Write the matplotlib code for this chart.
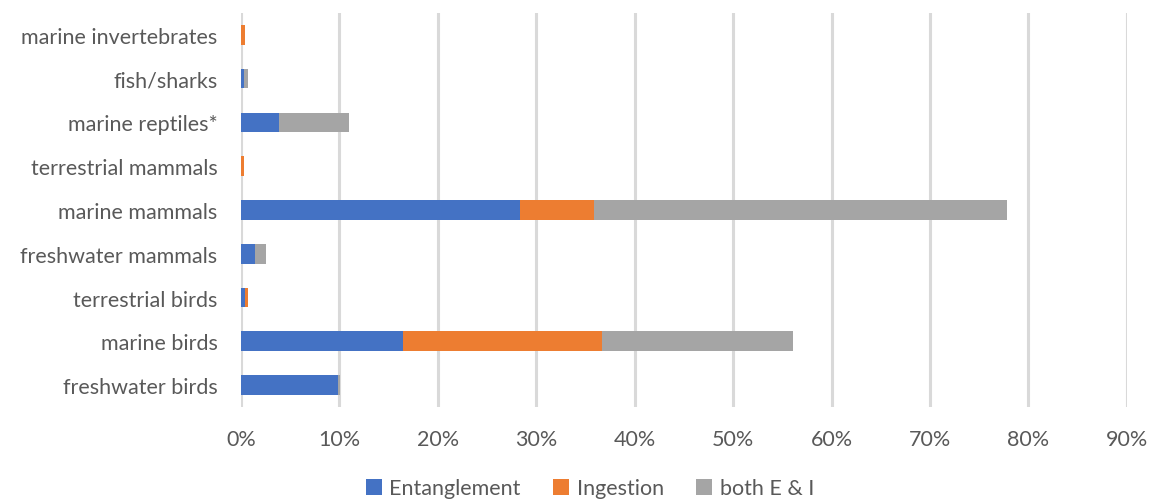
import numpy as np
import matplotlib
matplotlib.use("Agg")
import matplotlib.pyplot as plt
from matplotlib.ticker import PercentFormatter

plt.rcParams['font.family'] = ['Lato', 'DejaVu Sans']

# categories listed bottom to top
categories = ['freshwater birds', 'marine birds', 'terrestrial birds',
              'freshwater mammals', 'marine mammals', 'terrestrial mammals',
              'marine reptiles*', 'fish/sharks', 'marine invertebrates']

# share of species affected (%)
entanglement = [9.9, 16.5, 0.4, 1.4, 28.3, 0.0, 3.9, 0.35, 0.0]
ingestion = [0.0, 20.2, 0.3, 0.0, 7.6, 0.35, 0.0, 0.0, 0.4]
both_e_i = [0.2, 19.4, 0.0, 1.1, 41.9, 0.0, 7.1, 0.35, 0.0]

colors = ['#4472C4', '#ED7D31', '#A5A5A5']
text_col = '#595959'

fig = plt.figure(figsize=(11.52, 5.02), dpi=100)
ax = fig.add_axes([0.2092, 0.1873, 0.769, 0.785])

y = np.arange(len(categories))
ent = np.array(entanglement)
ing = np.array(ingestion)
both = np.array(both_e_i)
h = 0.45
ax.barh(y, ent, height=h, color=colors[0], label='Entanglement', zorder=3)
ax.barh(y, ing, left=ent, height=h, color=colors[1], label='Ingestion', zorder=3)
ax.barh(y, both, left=ent + ing, height=h, color=colors[2], label='both E & I', zorder=3)

ax.set_xlim(0, 90)
ax.set_ylim(-0.5, len(categories) - 0.5)
ax.set_xticks(np.arange(0, 91, 10))
ax.xaxis.set_major_formatter(PercentFormatter(decimals=0))
ax.set_yticks(y)
ax.set_yticklabels(categories)
ax.grid(axis='x', color='#D9D9D9', linewidth=2.2, zorder=0)
for s in ax.spines.values():
    s.set_visible(False)
ax.tick_params(axis='both', length=0, labelsize=15.5, colors=text_col)
ax.tick_params(axis='y', pad=17)
ax.tick_params(axis='x', pad=16)

leg = fig.legend(loc='lower center', bbox_to_anchor=(0.512, -0.033), ncol=3,
                 frameon=False, fontsize=15.5, handlelength=0.75, handleheight=0.75,
                 handletextpad=0.35, columnspacing=1.5)
for t in leg.get_texts():
    t.set_color(text_col)

fig.savefig('out.png', dpi=100)
